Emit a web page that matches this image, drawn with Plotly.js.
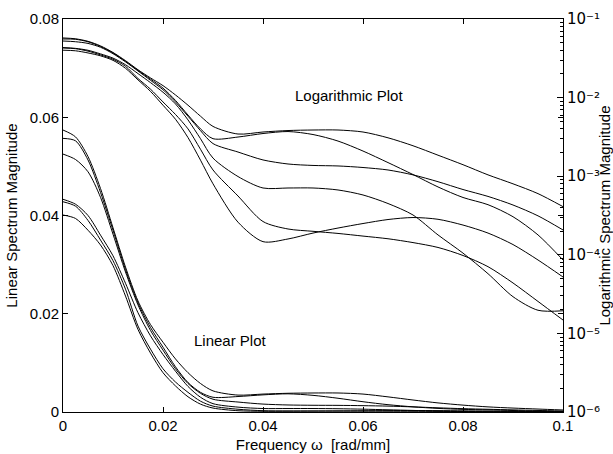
<!DOCTYPE html>
<html>
<head>
<meta charset="utf-8">
<script src="https://cdn.plot.ly/plotly-3.0.1.min.js"></script>
<style>
  html, body { margin: 0; padding: 0; background: #fff; }
  #chart { width: 613px; height: 454px; }
</style>
</head>
<body>
<div id="chart"></div>
<script>
// Frequency samples [rad/mm]
const freq = [0, 0.0025, 0.005, 0.0075, 0.01, 0.0125, 0.015, 0.0175, 0.02, 0.0225, 0.025, 0.0275, 0.03,
              0.035, 0.04, 0.045, 0.05, 0.055, 0.06, 0.065, 0.07, 0.075, 0.08, 0.085, 0.09, 0.095, 0.1];

// Six spectra (same data drawn on the linear and on the logarithmic axis)
const spec1 = [0.0574, 0.0560, 0.0520, 0.0455, 0.0375, 0.0295, 0.0226, 0.0178, 0.0142, 0.0108, 0.0080, 0.0058, 0.0043,
               0.00344, 0.00365, 0.00381, 0.00387, 0.00387, 0.00365, 0.00308, 0.00244, 0.00185, 0.00140, 0.00104, 0.00080, 0.00060, 0.00041];
const spec2 = [0.0557, 0.0552, 0.0513, 0.0447, 0.0370, 0.0290, 0.0222, 0.0172, 0.0132, 0.0092, 0.0060, 0.0040, 0.0030,
               0.00315, 0.00349, 0.00370, 0.00339, 0.00280, 0.00209, 0.00149, 0.00105, 0.00073, 0.000536, 0.000434, 0.000305, 0.000179, 0.0000859];
const spec3 = [0.0525, 0.0514, 0.0489, 0.0437, 0.0362, 0.0285, 0.0218, 0.0166, 0.0126, 0.0088, 0.0058, 0.0038, 0.0026,
               0.00203, 0.00161, 0.00143, 0.00137, 0.00135, 0.00129, 0.00120, 0.00104, 0.000851, 0.000677, 0.000553, 0.000430, 0.000313, 0.000207];
const spec4 = [0.0433, 0.0423, 0.0400, 0.0360, 0.0318, 0.0262, 0.0202, 0.0155, 0.0117, 0.0083, 0.0052, 0.0030, 0.0017,
               0.000990, 0.000708, 0.000708, 0.000708, 0.000668, 0.000577, 0.000449, 0.000321, 0.000179, 0.000105, 0.0000575, 0.0000293, 0.0000197, 0.0000194];
const spec5 = [0.0428, 0.0419, 0.0390, 0.0350, 0.0308, 0.0250, 0.0175, 0.0128, 0.0088, 0.0061, 0.0040, 0.0022, 0.0012,
               0.000560, 0.000265, 0.000213, 0.000199, 0.000187, 0.000173, 0.000160, 0.000143, 0.000124, 0.0000980, 0.0000706, 0.0000438, 0.0000255, 0.0000148];
const spec6 = [0.0401, 0.0394, 0.0370, 0.0340, 0.0298, 0.0236, 0.0168, 0.0120, 0.0080, 0.0053, 0.0031, 0.0016, 0.00080,
               0.000260, 0.000147, 0.000159, 0.000189, 0.000219, 0.000250, 0.000281, 0.000298, 0.000283, 0.000239, 0.000189, 0.000135, 0.0000859, 0.0000522];

const spectra = [spec1, spec2, spec3, spec4, spec5, spec6];

// Axis ticks
const xTicks = [0, 0.02, 0.04, 0.06, 0.08, 0.1];
const xTickText = ['0', '0.02', '0.04', '0.06', '0.08', '0.1'];
const yTicks = [0, 0.02, 0.04, 0.06, 0.08];
const yTickText = ['0', '0.02', '0.04', '0.06', '0.08'];
const logTicks = [1e-6, 1e-5, 1e-4, 1e-3, 1e-2, 1e-1];
const logTickText = ['10⁻⁶', '10⁻⁵', '10⁻⁴', '10⁻³', '10⁻²', '10⁻¹'];

const lineStyle = {color: '#000000', width: 1, shape: 'spline', smoothing: 0.8};

const traces = [];
spectra.forEach(s => {
  traces.push({x: freq, y: s, type: 'scatter', mode: 'lines', line: lineStyle, yaxis: 'y', hoverinfo: 'skip'});
});
spectra.forEach(s => {
  traces.push({x: freq, y: s, type: 'scatter', mode: 'lines', line: lineStyle, yaxis: 'y2', hoverinfo: 'skip'});
});

const font = {family: 'Liberation Sans, Arial, Helvetica, sans-serif', size: 15, color: '#000'};
const logFont = {family: 'DejaVu Sans, Liberation Sans, sans-serif', size: 15, color: '#000'};

const layout = {
  width: 613, height: 454,
  margin: {l: 63, r: 50, t: 19, b: 42},
  paper_bgcolor: '#fff', plot_bgcolor: '#fff',
  showlegend: false,
  font: font,
  xaxis: {
    range: [0, 0.1], tickmode: 'array', tickvals: xTicks, ticktext: xTickText,
    ticks: 'inside', ticklen: 5, tickcolor: '#000', mirror: 'ticks',
    showline: true, linecolor: '#000', linewidth: 1, showgrid: false, zeroline: false,
    tickfont: font,
    title: {text: 'Frequency ω  [rad/mm]', font: font, standoff: 6}
  },
  yaxis: {
    range: [0, 0.08], tickmode: 'array', tickvals: yTicks, ticktext: yTickText,
    ticks: 'inside', ticklen: 5, tickcolor: '#000', mirror: 'ticks',
    showline: true, linecolor: '#000', linewidth: 1, showgrid: false, zeroline: false,
    tickfont: font,
    title: {text: 'Linear Spectrum Magnitude', font: font, standoff: 8}
  },
  yaxis2: {
    overlaying: 'y', side: 'right', type: 'log', range: [-6, -1],
    tickmode: 'array', tickvals: logTicks, ticktext: logTickText,
    ticks: 'inside', ticklen: 6, tickcolor: '#000',
    minor: {ticks: 'inside', ticklen: 3, dtick: 'D1', tickcolor: '#000', showgrid: false},
    showline: true, linecolor: '#000', linewidth: 1, showgrid: false, zeroline: false,
    tickfont: logFont,
    title: {text: 'Logarithmic Spectrum Magnitude', font: font, standoff: 10}
  },
  annotations: [
    {text: 'Logarithmic Plot', xref: 'paper', yref: 'paper', x: 0.572, y: 0.806,
     showarrow: false, font: font, xanchor: 'center', yanchor: 'middle'},
    {text: 'Linear Plot', xref: 'paper', yref: 'paper', x: 0.334, y: 0.183,
     showarrow: false, font: font, xanchor: 'center', yanchor: 'middle'}
  ]
};

Plotly.newPlot('chart', traces, layout, {displayModeBar: false, staticPlot: true});
</script>
</body>
</html>
